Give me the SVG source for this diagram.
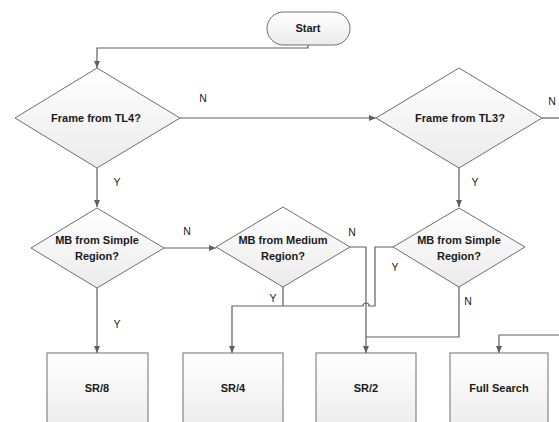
<svg xmlns="http://www.w3.org/2000/svg" width="559" height="422" viewBox="0 0 559 422">
<style>
.shape{fill:url(#g);stroke:#6e6e6e;stroke-width:1}
.conn{fill:none;stroke:#5f5f5f;stroke-width:1.2}
text{font-family:"Liberation Sans",Arial,sans-serif;font-weight:bold;font-size:11px;fill:#1a1a1a;text-anchor:middle}
.lbl{font-weight:normal;font-size:10.5px}
</style>
<defs>
<linearGradient id="g" x1="0" y1="0" x2="0" y2="1">
<stop offset="0" stop-color="#ffffff"/>
<stop offset="1" stop-color="#ebebeb"/>
</linearGradient>
<marker id="arr" markerWidth="8" markerHeight="8" refX="7" refY="4" orient="auto" markerUnits="userSpaceOnUse">
<path d="M0,1 L7,4 L0,7 z" fill="#5f5f5f"/>
</marker>
</defs>
<rect width="559" height="422" fill="#ffffff"/>
<g id="connectors">
<path class="conn" d="M308,45 V48 H97 V68" marker-end="url(#arr)"/>
<path class="conn" d="M180,118 H376" marker-end="url(#arr)"/>
<path class="conn" d="M542,118 H559"/>
<path class="conn" d="M97,168 V207" marker-end="url(#arr)"/>
<path class="conn" d="M459,168 V207" marker-end="url(#arr)"/>
<path class="conn" d="M164,248 H216" marker-end="url(#arr)"/>
<path class="conn" d="M97,288 V353" marker-end="url(#arr)"/>
<path class="conn" d="M283,287 V306"/>
<path class="conn" d="M393,247 H375 V306 H369 A3,3 0 0 0 363,306 H232 V353" marker-end="url(#arr)"/>
<path class="conn" d="M350,247 H366 V353" marker-end="url(#arr)"/>
<path class="conn" d="M459,287 V337 H366"/>
<path class="conn" d="M559,335 H499 V353" marker-end="url(#arr)"/>
</g>
<g id="start">
<rect class="shape" x="267" y="12" width="83" height="33" rx="16.5"/>
<text x="308" y="32">Start</text>
</g>
<g id="d1">
<polygon class="shape" points="97,68 180,118 97,168 15,118"/>
<text x="96" y="122">Frame from TL4?</text>
</g>
<g id="d2">
<polygon class="shape" points="459,68 542,118 459,168 376,118"/>
<text x="460" y="122">Frame from TL3?</text>
</g>
<g id="d3">
<polygon class="shape" points="97,208 164,248 97,288 31,248"/>
<text x="97" y="244">MB from Simple</text>
<text x="97" y="260">Region?</text>
</g>
<g id="d5">
<polygon class="shape" points="283,207 350,247 283,287 216,247"/>
<text x="283" y="244">MB from Medium</text>
<text x="283" y="260">Region?</text>
</g>
<g id="d4">
<polygon class="shape" points="459,208 525,247 459,287 393,247"/>
<text x="459" y="244">MB from Simple</text>
<text x="459" y="260">Region?</text>
</g>
<g id="sr8">
<rect class="shape" x="47" y="353" width="101" height="80"/>
<text x="97" y="392">SR/8</text>
</g>
<g id="sr4">
<rect class="shape" x="183" y="353" width="100" height="80"/>
<text x="233" y="392">SR/4</text>
</g>
<g id="sr2">
<rect class="shape" x="316" y="353" width="100" height="80"/>
<text x="366" y="392">SR/2</text>
</g>
<g id="fullsearch">
<rect class="shape" x="450" y="353" width="98" height="80"/>
<text x="499" y="392">Full Search</text>
</g>
<g id="labels">
<text class="lbl" x="203" y="102">N</text>
<text class="lbl" x="552" y="105">N</text>
<text class="lbl" x="117" y="186">Y</text>
<text class="lbl" x="475" y="186">Y</text>
<text class="lbl" x="187" y="235">N</text>
<text class="lbl" x="352" y="236">N</text>
<text class="lbl" x="117" y="328">Y</text>
<text class="lbl" x="273" y="302">Y</text>
<text class="lbl" x="395" y="271">Y</text>
<text class="lbl" x="468" y="305">N</text>
</g>
</svg>
